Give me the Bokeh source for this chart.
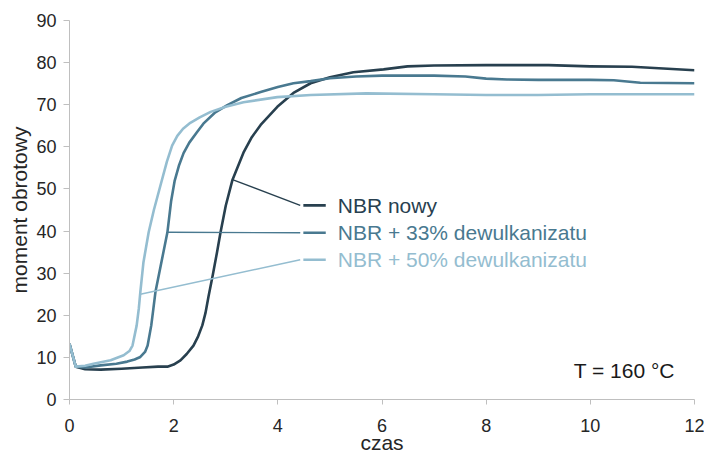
from bokeh.plotting import figure
from bokeh.models import Range1d, FixedTicker, Label
from bokeh.embed import file_html
from bokeh.resources import INLINE

# --- data ---
t_nowy = [0, 0.12, 0.3, 0.6, 1.0, 1.4, 1.7, 1.88, 2.0, 2.13, 2.25, 2.38, 2.47, 2.55,
          2.61, 2.67, 2.75, 2.83, 2.9, 3.0, 3.13, 3.34, 3.5, 3.67, 3.99, 4.3, 4.63, 5.0,
          5.45, 6.03, 6.49, 7.0, 8.0, 9.2, 10.0, 10.8, 11.4, 12.0]
m_nowy = [13.2, 7.8, 7.2, 7.1, 7.3, 7.6, 7.8, 7.8, 8.3, 9.3, 10.8, 12.8, 15.0, 17.6,
          20.5, 24.5, 29.5, 34.8, 39.7, 46.0, 52.2, 58.6, 62.3, 65.2, 69.5, 72.8, 75.1, 76.5,
          77.7, 78.4, 79.1, 79.3, 79.4, 79.4, 79.1, 79.0, 78.6, 78.2]

t_33 = [0, 0.12, 0.3, 0.6, 0.9, 1.11, 1.25, 1.36, 1.45, 1.5, 1.57, 1.61, 1.65, 1.75,
        1.88, 1.95, 2.02, 2.1, 2.19, 2.3, 2.45, 2.57, 2.8, 3.03, 3.3, 3.67, 4.0, 4.3, 4.63,
        5.0, 5.5, 6.0, 7.0, 7.6, 8.0, 8.4, 9.0, 10.0, 10.45, 10.96, 12.0]
m_33 = [13.2, 7.8, 7.6, 8.1, 8.5, 9.0, 9.5, 10.1, 11.3, 12.8, 17.6, 21.5, 25.5, 31.7,
        39.7, 47.0, 52.0, 55.5, 58.5, 61.0, 63.5, 65.5, 68.2, 69.9, 71.6, 73.0, 74.2, 75.1,
        75.6, 76.3, 76.7, 76.9, 76.9, 76.7, 76.2, 76.0, 75.9, 75.9, 75.8, 75.2, 75.1]

t_50 = [0, 0.12, 0.3, 0.46, 0.79, 1.04, 1.15, 1.21, 1.29, 1.33, 1.36, 1.42, 1.52, 1.62,
        1.75, 1.87, 1.97, 2.07, 2.18, 2.32, 2.5, 2.71, 3.0, 3.34, 3.99, 4.63, 5.7, 7.0,
        8.0, 9.0, 10.0, 12.0]
m_50 = [13.2, 7.8, 8.0, 8.5, 9.3, 10.5, 11.5, 12.8, 17.6, 21.5, 25.5, 32.6, 39.7, 45.0,
        51.0, 56.5, 60.3, 62.6, 64.3, 65.7, 67.0, 68.3, 69.5, 70.6, 71.8, 72.3, 72.7, 72.5,
        72.3, 72.3, 72.5, 72.5]

series_names = ["NBR nowy", "NBR + 33% dewulkanizatu", "NBR + 50% dewulkanizatu"]
# leader anchors: point on curve -> elbow at the label row
leader_from_x = [3.13, 1.88, 1.36]
leader_from_y = [52.2, 39.7, 25.0]
label_y = [46.1, 39.6, 33.2]

x_ticks = [0, 2, 4, 6, 8, 10, 12]
y_ticks = [0, 10, 20, 30, 40, 50, 60, 70, 80, 90]

colors = ["#28404f", "#497990", "#94bdd0"]
FONT = "Liberation Sans"

p = figure(width=704, height=456, output_backend="svg", toolbar_location=None,
           x_range=Range1d(0, 12), y_range=Range1d(0, 90),
           min_border_left=69, min_border_right=10, min_border_top=20, min_border_bottom=55)
p.outline_line_color = None
p.grid.visible = False
p.background_fill_color = "white"

for ax, ticks, tout in ((p.xaxis[0], x_ticks, 5), (p.yaxis[0], y_ticks, 6)):
    ax.ticker = FixedTicker(ticks=ticks)
    ax.axis_line_color = "#bfbfbf"
    ax.major_tick_line_color = "#bfbfbf"
    ax.major_tick_in = 0
    ax.major_tick_out = tout
    ax.minor_tick_line_color = None
    ax.major_label_text_font = FONT
    ax.major_label_text_font_size = "18px"
    ax.major_label_text_color = "#262626"
    ax.axis_label_text_font = FONT
    ax.axis_label_text_font_size = "21px"
    ax.axis_label_text_font_style = "normal"
    ax.axis_label_text_color = "#262626"

p.xaxis.major_label_standoff = 14
p.yaxis.major_label_standoff = 7
p.yaxis.axis_label = "moment obrotowy"
p.yaxis.axis_label_standoff = 2
p.xaxis.axis_label = "czas"
p.xaxis.axis_label_standoff = -4

for tx, my, c in ((t_nowy, m_nowy, colors[0]), (t_33, m_33, colors[1]), (t_50, m_50, colors[2])):
    p.line(tx, my, line_color=c, line_width=2.6, line_join="round")

elbow_x = 4.43
dash_x0, dash_x1 = 4.49, 4.92
text_x = 5.15
for i, name in enumerate(series_names):
    p.line([leader_from_x[i], elbow_x], [leader_from_y[i], label_y[i]],
           line_color=colors[i], line_width=1.4)
    p.line([dash_x0, dash_x1], [label_y[i], label_y[i]], line_color=colors[i], line_width=2.6)
    p.add_layout(Label(x=text_x, y=label_y[i], text=name, text_font=FONT,
                       text_font_size="21px", text_color=colors[i],
                       text_baseline="middle", text_align="left"))

p.add_layout(Label(x=9.68, y=7.0, text="T = 160 °C", text_font=FONT, text_font_size="21px",
                   text_color="#1a1a1a", text_baseline="middle", text_align="left"))

open("out.html", "w").write(file_html(p, INLINE))
